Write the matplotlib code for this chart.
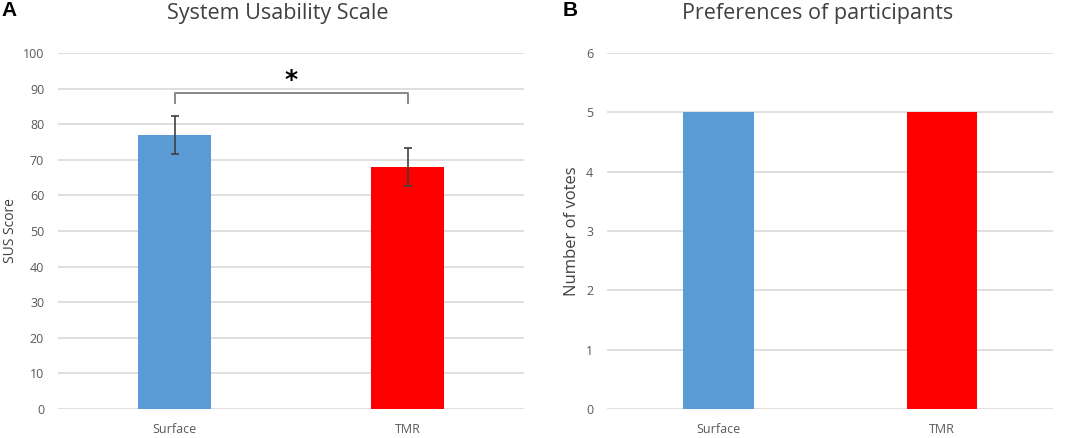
import matplotlib.pyplot as plt
import numpy as np

plt.rcParams['font.family'] = ['Open Sans', 'DejaVu Sans']

groups = ['Surface', 'TMR']
sus_mean = [77, 68]
sus_err = [5.3, 5.3]
votes = [5, 5]
colors = ['#5B9BD5', '#FF0000']
grid_c = '#D9D9D9'
tick_c = '#595959'

fig = plt.figure(figsize=(10.65, 4.38), dpi=100)
ax1 = fig.add_axes([0.0545, 0.066, 0.4376, 0.813])
ax2 = fig.add_axes([0.570, 0.066, 0.419, 0.813])

def style(ax, ymax, step):
    ax.set_xlim(-0.5, 1.5)
    ax.set_ylim(0, ymax)
    ax.set_yticks(np.arange(0, ymax + step / 2, step))
    ax.yaxis.grid(True, color=grid_c, lw=1.2)
    ax.set_axisbelow(True)
    for s in ax.spines.values():
        s.set_visible(False)
    ax.tick_params(length=0, colors=tick_c, labelsize=9, pad=10)
    ax.set_xticks(range(len(groups)))
    ax.set_xticklabels(groups)

x = np.arange(len(groups))

# A: SUS score
ax1.bar(x, sus_mean, width=0.31, color=colors, zorder=2)
ax1.errorbar(x, sus_mean, yerr=sus_err, fmt='none', ecolor='#404040',
             elinewidth=1.2, capsize=3, capthick=1.2, zorder=3)
style(ax1, 100, 10)
ax1.set_ylabel('SUS Score', fontsize=10, color='#404040', va='center')
ax1.yaxis.set_label_coords(-0.103, 0.5)
br_y, br_leg = 88.8, 86
ax1.plot([0, 0, 1, 1], [br_leg, br_y, br_y, br_leg], color='#7F7F7F', lw=1.3, zorder=3)
ax1.text(0.5, 92.3, '*', ha='center', va='center', fontsize=18, fontweight='bold',
         color='black', family='DejaVu Sans')

# B: preferences
ax2.bar(x, votes, width=0.315, color=colors, zorder=2)
style(ax2, 6, 1)
ax2.set_ylabel('Number of votes', fontsize=12, color='#404040', labelpad=4)

fig.text(278 / 1065, 1 - 14 / 438, 'System Usability Scale', ha='center', va='center',
         fontsize=15.5, color='#404040')
fig.text(818 / 1065, 1 - 14 / 438, 'Preferences of participants', ha='center', va='center',
         fontsize=15.5, color='#404040')
fig.text(1 / 1065, 1 - 11 / 438, 'A', ha='left', va='center', fontsize=15,
         fontweight='bold', family='Liberation Sans')
fig.text(563 / 1065, 1 - 11 / 438, 'B', ha='left', va='center', fontsize=15,
         fontweight='bold', family='Liberation Sans')

fig.savefig('out.png', dpi=100)
